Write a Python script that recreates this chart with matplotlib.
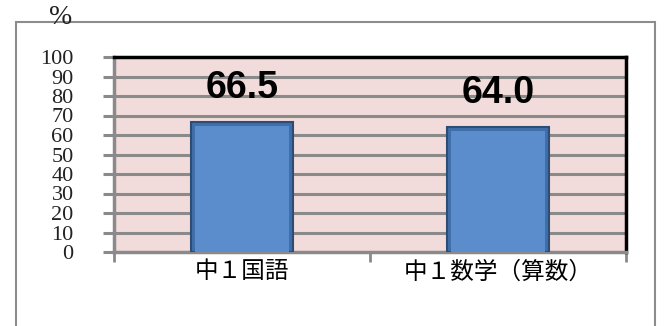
import matplotlib
matplotlib.use('Agg')
import matplotlib.pyplot as plt
from matplotlib.patches import Rectangle

plt.rcParams['font.family'] = ['Noto Sans CJK JP', 'DejaVu Sans']

# データ
categories = ['中１国語', '中１数学（算数）']
values = [66.5, 64.0]
value_labels = ['66.5', '64.0']
yticks = [0, 10, 20, 30, 40, 50, 60, 70, 80, 90, 100]

fig = plt.figure(figsize=(6.65, 3.26), dpi=100)

# 外枠
frame = Rectangle((16 / 665, -0.1), (655 - 16) / 665, 1.1 - 22 / 326,
                  transform=fig.transFigure, fill=False,
                  edgecolor='#8c8c8c', linewidth=1.5)
fig.patches.append(frame)

ax = fig.add_axes([114 / 665, 1 - 252 / 326, (626 - 114) / 665, (252 - 57) / 326])
ax.set_facecolor('#f2dcdb')

x = list(range(len(categories)))
ax.set_xlim(-0.5, len(categories) - 0.5)
ax.set_ylim(0, 100)

# グリッド
for t in yticks[1:-1]:
    ax.axhline(t, color='#8a8a8a', linewidth=2.2, zorder=1)

ax.bar(x, values, width=0.4, color='#3f6ea8', edgecolor='#2c4d75',
       linewidth=1.5, zorder=3)
# 立体感
ax.bar(x, [v - 1.8 for v in values], width=0.37, color='#5b8dcc',
       edgecolor='none', zorder=4)

for xi, v, lab in zip(x, values, value_labels):
    ax.text(xi, v + 12.3, lab, ha='center', va='baseline', fontsize=27,
            fontweight='bold', family=['Liberation Sans', 'DejaVu Sans'],
            color='black')

ax.set_yticks(yticks)
ax.set_yticklabels([str(t) for t in yticks], fontsize=16,
                   family=['Liberation Serif', 'DejaVu Serif'], color='#222222')
ax.tick_params(axis='y', length=8, width=2.2, color='#8a8a8a', pad=21)
for lab in ax.get_yticklabels():
    lab.set_verticalalignment('center_baseline')

ax.set_xticks(x)
ax.set_xticklabels(categories, fontsize=17)
ax.set_xticks([-0.5, 0.5, 1.5], minor=True)
ax.tick_params(axis='x', which='major', length=0, pad=6)
ax.tick_params(axis='x', which='minor', length=7, width=2, color='#8a8a8a')

ax.spines['left'].set_color('#8a8a8a')
ax.spines['left'].set_linewidth(2.5)
ax.spines['bottom'].set_color('#8a8a8a')
ax.spines['bottom'].set_linewidth(2.5)
ax.spines['top'].set_color('black')
ax.spines['top'].set_linewidth(2.5)
ax.spines['right'].set_color('black')
ax.spines['right'].set_linewidth(2.5)

fig.text(61 / 665, 1 - 17 / 326, '%', ha='center', va='center', fontsize=20,
         family=['Liberation Serif', 'DejaVu Serif'], color='#222222')

fig.savefig('out.png', dpi=100)
